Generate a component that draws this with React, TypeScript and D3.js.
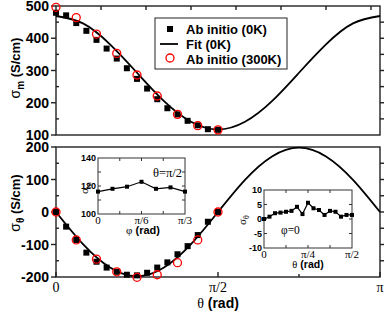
import React from "react";
import * as d3 from "d3";

const PI = Math.PI;

// top panel: sigma_m vs theta
const topAbInitio0K = [479, 471, 447, 423, 395, 368, 337, 307, 274, 244, 211, 183, 164, 144, 130, 118, 116];
const topAbInitio300K = [496, 464, 413, 353, 286, 221, 164, 129, 116];
const topFit = [469, 446, 381, 293, 205, 141, 117, 141, 205, 293, 381, 446, 469];
const topYTicks = [100, 200, 300, 400, 500];

// bottom panel: sigma_theta vs theta
const botAbInitio0K = [0, -45, -86, -125, -153, -171, -184, -193, -195, -187, -171, -155, -130, -105, -71, -30, 0];
const botAbInitio300K = [0, -86, -145, -184, -201, -193, -156, -86, 0];
const botFit = [0, -99, -171, -198, -171, -99, 0, 99, 171, 198, 171, 99, 0];
const botYTicks = [-200, -100, 0, 100, 200];
const xTickLabels = ["0", "π/2", "π"];

// inset 1: sigma_m vs phi at theta = pi/2
const inset1Values = [116, 118, 119.5, 123, 118, 119, 116];
const inset1YTicks = [100, 120, 140];
const inset1XLabels = ["0", "π/6", "π/3"];

// inset 2: sigma_theta vs theta at phi = 0
const inset2Values = [0, 0.8, 2, 2.2, 2.5, 2.8, 4.2, 1.7, 5.6, 3.7, 3.1, 1.4, 2.8, 2.5, 0.8, 1.4, 1.4];
const inset2YTicks = [-10, -5, 0, 5, 10];
const inset2XLabels = ["0", "π/4", "π/2"];

const sans = "'Liberation Sans', Arial, Helvetica, sans-serif";
const serif = "'Liberation Serif', 'Times New Roman', serif";
const ink = "#222";

const x = d3.scaleLinear().domain([0, PI]).range([56, 380]);
const yTop = d3.scaleLinear().domain([100, 500]).range([135, 6]);
const yBot = d3.scaleLinear().domain([-200, 200]).range([277, 147]);

const i1x = d3.scaleLinear().domain([0, PI / 3]).range([98, 185]);
const i1y = d3.scaleLinear().domain([100, 140]).range([214, 158]);
const i2x = d3.scaleLinear().domain([0, PI / 2]).range([264, 352]);
const i2y = d3.scaleLinear().domain([-10, 10]).range([248, 190]);

function Squares({ pts, size, fill = "#000" }: { pts: [number, number][]; size: number; fill?: string }) {
  return (
    <g>
      {pts.map(([px, py], i) => (
        <rect key={i} x={px - size / 2} y={py - size / 2} width={size} height={size} fill={fill} />
      ))}
    </g>
  );
}

function Circles({ pts }: { pts: [number, number][] }) {
  return (
    <g>
      {pts.map(([px, py], i) => (
        <circle key={i} cx={px} cy={py} r={4} fill="none" stroke="#ff0000" strokeWidth={1.3} />
      ))}
    </g>
  );
}

export default function App() {
  const fineT = (i: number) => (i * PI) / 32;
  const midT = (i: number) => (i * PI) / 16;
  const fitT = (i: number) => (i * PI) / 12;

  const fitLineTop = d3
    .line<number>()
    .x((d, i) => x(fitT(i)))
    .y((d) => yTop(d))
    .curve(d3.curveNatural);
  const fitLineBot = d3
    .line<number>()
    .x((d, i) => x(fitT(i)))
    .y((d) => yBot(d))
    .curve(d3.curveNatural);
  const inset1Line = d3
    .line<number>()
    .x((d, i) => i1x((i * PI) / 18))
    .y((d) => i1y(d));
  const inset2Line = d3
    .line<number>()
    .x((d, i) => i2x((i * PI) / 32))
    .y((d) => i2y(d));

  const topTicks = d3.range(1, 8).map((k) => (k * 25 * PI) / 180);
  const botXTicks = [0, PI / 2, PI];
  const botXMinor = [PI / 4, (3 * PI) / 4];

  const topMinor = [150, 250, 350, 450];
  const topRight = d3.range(150, 500, 50);
  const botMinor = [-150, -50, 50, 150];
  const botRight = d3.range(-150, 200, 50);

  return (
    <svg width={388} height={311} style={{ position: "absolute", left: 0, top: 0, background: "#fff" }}>
      {/* ---------- top panel ---------- */}
      <g fill="none" stroke={ink} strokeWidth={1.4}>
        <rect x={56} y={6} width={324} height={129} />
        {topYTicks.map((t) => (
          <line key={t} x1={51} x2={56} y1={yTop(t)} y2={yTop(t)} />
        ))}
        {topMinor.map((t) => (
          <line key={t} x1={56} x2={59} y1={yTop(t)} y2={yTop(t)} />
        ))}
        {topRight.map((t) => (
          <line key={t} x1={380} x2={384} y1={yTop(t)} y2={yTop(t)} />
        ))}
        {topTicks.map((t, i) => (
          <line key={i} x1={x(t)} x2={x(t)} y1={6} y2={10} />
        ))}
      </g>
      <g fontFamily={sans} fontWeight="bold" fontSize={14} textAnchor="end" fill="#000">
        {topYTicks.map((t) => (
          <text key={t} x={49} y={yTop(t) + 5}>
            {t}
          </text>
        ))}
      </g>
      <text
        transform={`translate(20, 68) rotate(-90)`}
        fontFamily={sans}
        fontWeight="bold"
        fontSize={13}
        textAnchor="middle"
      >
        <tspan fontWeight="normal" fontSize={14}>σ</tspan>
        <tspan fontSize={10} dy={4}>m</tspan>
        <tspan dy={-4}> (S/cm)</tspan>
      </text>

      <path d={fitLineTop(topFit) ?? ""} fill="none" stroke="#000" strokeWidth={1.8} />
      <Squares pts={topAbInitio0K.map((v, i) => [x(fineT(i)), yTop(v)])} size={6} />
      <Circles pts={topAbInitio300K.map((v, i) => [x(midT(i)), yTop(v)])} />

      {/* legend */}
      <rect x={155} y={18} width={132} height={51} fill="#fff" stroke={ink} strokeWidth={1} />
      <rect x={167} y={26} width={6} height={6} fill="#000" />
      <line x1={160} x2={178} y1={44} y2={44} stroke="#000" strokeWidth={1.8} />
      <circle cx={170} cy={58} r={4} fill="none" stroke="#ff0000" strokeWidth={1.3} />
      <g fontFamily={sans} fontWeight="bold" fontSize={13}>
        <text x={186} y={34}>Ab initio (0K)</text>
        <text x={186} y={49}>Fit (0K)</text>
        <text x={186} y={64}>Ab initio (300K)</text>
      </g>

      {/* ---------- bottom panel ---------- */}
      <g fill="none" stroke={ink} strokeWidth={1.4}>
        <rect x={56} y={147} width={324} height={130} />
        {botYTicks.map((t) => (
          <line key={t} x1={51} x2={56} y1={yBot(t)} y2={yBot(t)} />
        ))}
        {botMinor.map((t) => (
          <line key={t} x1={56} x2={59} y1={yBot(t)} y2={yBot(t)} />
        ))}
        {botRight.map((t) => (
          <line key={t} x1={380} x2={384} y1={yBot(t)} y2={yBot(t)} />
        ))}
        {botXTicks.map((t, i) => (
          <line key={i} x1={x(t)} x2={x(t)} y1={277} y2={272} />
        ))}
        {botXMinor.map((t, i) => (
          <line key={i} x1={x(t)} x2={x(t)} y1={277} y2={274} />
        ))}
      </g>
      <g fontFamily={sans} fontWeight="bold" fontSize={14} textAnchor="end">
        {botYTicks.map((t) => (
          <text key={t} x={49} y={yBot(t) + 5}>
            {t}
          </text>
        ))}
      </g>
      <g fontFamily={serif} fontSize={14} textAnchor="middle">
        {botXTicks.map((t, i) => (
          <text key={i} x={x(t)} y={292}>
            {xTickLabels[i]}
          </text>
        ))}
      </g>
      <text x={218} y={308} fontFamily={sans} fontWeight="bold" fontSize={14} textAnchor="middle">
        <tspan fontFamily={serif} fontWeight="normal">θ</tspan> (rad)
      </text>
      <text
        transform={`translate(20, 203) rotate(-90)`}
        fontFamily={sans}
        fontWeight="bold"
        fontSize={13}
        textAnchor="middle"
      >
        <tspan fontWeight="normal" fontSize={14}>σ</tspan>
        <tspan fontSize={10} dy={4}>θ</tspan>
        <tspan dy={-4}> (S/cm)</tspan>
      </text>

      <path d={fitLineBot(botFit) ?? ""} fill="none" stroke="#000" strokeWidth={1.8} />
      <Squares pts={botAbInitio0K.map((v, i) => [x(fineT(i)), yBot(v)])} size={6} />
      <Circles pts={botAbInitio300K.map((v, i) => [x(midT(i)), yBot(v)])} />

      {/* ---------- inset 1 ---------- */}
      <g fill="none" stroke="#333" strokeWidth={1}>
        <rect x={98} y={158} width={87} height={56} fill="#fff" />
        {d3.range(1, 4).map((k) => (
          <g key={k}>
            <line x1={i1x((k * PI) / 12)} x2={i1x((k * PI) / 12)} y1={214} y2={211} />
            <line x1={i1x((k * PI) / 12)} x2={i1x((k * PI) / 12)} y1={158} y2={161} />
          </g>
        ))}
        {[110, 120, 130].map((t) => (
          <g key={t}>
            <line x1={98} x2={101} y1={i1y(t)} y2={i1y(t)} />
            <line x1={185} x2={182} y1={i1y(t)} y2={i1y(t)} />
          </g>
        ))}
      </g>
      <g fontFamily={sans} fontWeight="bold" fontSize={9} textAnchor="end">
        {inset1YTicks.map((t) => (
          <text key={t} x={96} y={i1y(t) + 3.2}>
            {t}
          </text>
        ))}
      </g>
      <g fontFamily={serif} fontSize={11} textAnchor="middle">
        {inset1XLabels.map((l, i) => (
          <text key={l} x={i1x((i * PI) / 6)} y={224}>
            {l}
          </text>
        ))}
      </g>
      <text x={143} y={234} fontFamily={sans} fontWeight="bold" fontSize={11} textAnchor="middle">
        <tspan fontFamily={serif} fontWeight="normal">φ</tspan> (rad)
      </text>
      <text transform="translate(88, 188) rotate(-90)" fontFamily={serif} fontSize={11} textAnchor="middle">
        σ<tspan fontSize={8} dy={3}>m</tspan>
      </text>
      <text x={182} y={177} fontFamily={serif} fontSize={12.5} textAnchor="end">
        θ=π/2
      </text>
      <path d={inset1Line(inset1Values) ?? ""} fill="none" stroke="#000" strokeWidth={1.2} />
      <Squares pts={inset1Values.map((v, i) => [i1x((i * PI) / 18), i1y(v)])} size={4} />

      {/* ---------- inset 2 ---------- */}
      <g fill="none" stroke="#333" strokeWidth={1}>
        <rect x={264} y={190} width={88} height={58} fill="#fff" />
        {d3.range(1, 4).map((k) => (
          <g key={k}>
            <line x1={i2x((k * PI) / 8)} x2={i2x((k * PI) / 8)} y1={248} y2={245} />
            <line x1={i2x((k * PI) / 8)} x2={i2x((k * PI) / 8)} y1={190} y2={193} />
          </g>
        ))}
        {[-5, 0, 5].map((t) => (
          <g key={t}>
            <line x1={264} x2={267} y1={i2y(t)} y2={i2y(t)} />
            <line x1={352} x2={349} y1={i2y(t)} y2={i2y(t)} />
          </g>
        ))}
      </g>
      <g fontFamily={sans} fontWeight="bold" fontSize={9} textAnchor="end">
        {inset2YTicks.map((t) => (
          <text key={t} x={262} y={i2y(t) + 3.2}>
            {t}
          </text>
        ))}
      </g>
      <g fontFamily={serif} fontSize={11} textAnchor="middle">
        {inset2XLabels.map((l, i) => (
          <text key={l} x={i2x((i * PI) / 4)} y={258}>
            {l}
          </text>
        ))}
      </g>
      <text x={308} y={268} fontFamily={sans} fontWeight="bold" fontSize={10.5} textAnchor="middle">
        <tspan fontFamily={serif} fontWeight="normal">θ</tspan> (rad)
      </text>
      <text transform="translate(246, 220) rotate(-90)" fontFamily={serif} fontSize={11} textAnchor="middle">
        σ<tspan fontSize={8} dy={3}>θ</tspan>
      </text>
      <text x={281} y={234} fontFamily={serif} fontSize={11.5}>
        φ=0
      </text>
      <path d={inset2Line(inset2Values) ?? ""} fill="none" stroke="#000" strokeWidth={1.2} />
      <Squares pts={inset2Values.map((v, i) => [i2x((i * PI) / 32), i2y(v)])} size={4} />
    </svg>
  );
}
